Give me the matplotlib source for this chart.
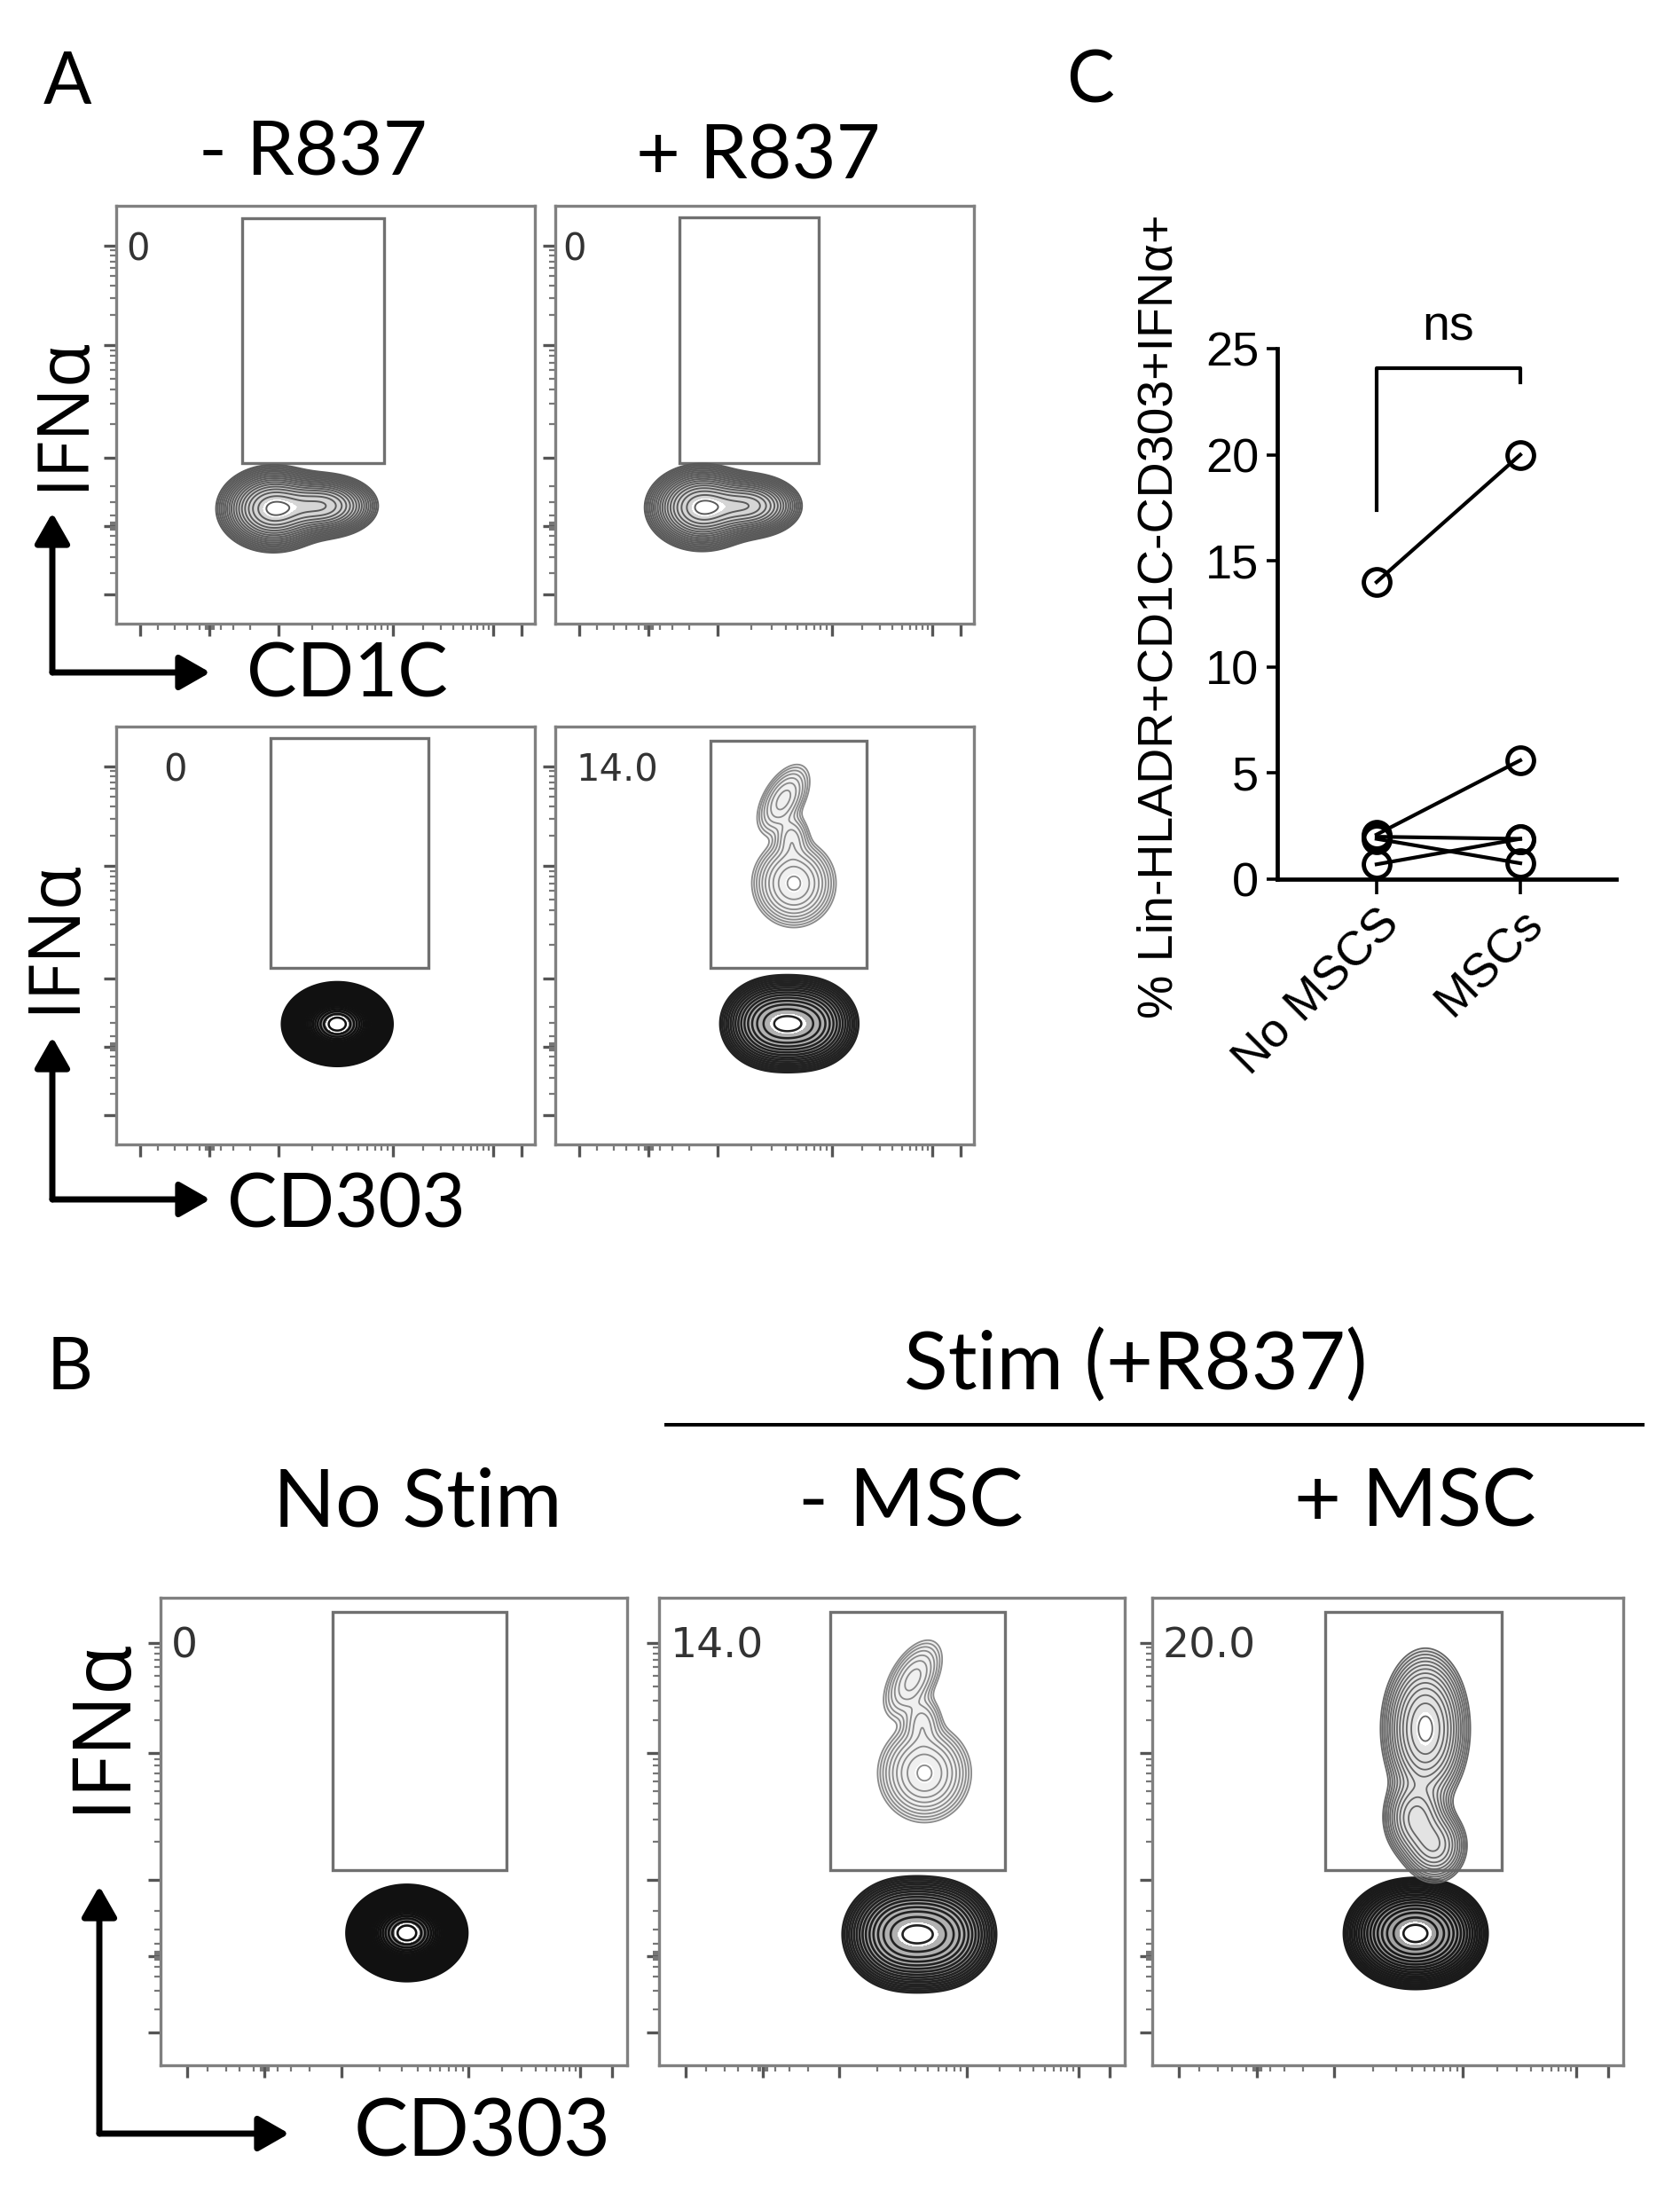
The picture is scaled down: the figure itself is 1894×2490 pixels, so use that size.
import numpy as np
import matplotlib
matplotlib.use("Agg")
import matplotlib.pyplot as plt
from matplotlib.patches import Rectangle

W, H = 1894, 2490
fig = plt.figure(figsize=(18.94, 24.90), dpi=100)

LABEL_FONT = ["Lato", "Noto Sans", "DejaVu Sans"]
GREEK_FONT = ["Open Sans", "Noto Sans", "DejaVu Sans"]

# ---- panel C data ----
groups = ["No MSCS", "MSCs"]
no_mscs = [14.0, 2.1, 2.0, 1.9, 0.7]
mscs = [20.0, 5.6, 1.9, 0.75, 1.9]
yticks_c = [0, 5, 10, 15, 20, 25]
ylabel_c = "% Lin-HLADR+CD1C-CD303+IFNα+"
bracket_y = [17.4, 24.1, 24.1, 23.4]

# ---- flow plots: gates [x0, x1, y0, y1] in axis fraction ----
gate_cd1c_neg = [0.300, 0.640, 0.385, 0.970]
gate_cd1c_pos = [0.296, 0.630, 0.385, 0.972]
gate_cd303_neg = [0.369, 0.745, 0.422, 0.972]
gate_cd303_pos = [0.370, 0.743, 0.423, 0.966]
gate_b = [0.368, 0.742, 0.418, 0.970]

pct_a = ["0", "0", "0", "14.0"]
pct_a_x = [0.024, 0.018, 0.113, 0.049]
pct_b = ["0", "14.0", "20.0"]
pct_b_x = [0.022, 0.025, 0.022]

# populations: (cx, cy, sx, sy, weight, angle)
pop_cd1c_neg = [(0.375, 0.275, 0.052, 0.040, 1.0, 0), (0.495, 0.282, 0.052, 0.031, 0.75, 0)]
pop_cd1c_pos = [(0.350, 0.278, 0.052, 0.040, 1.0, 0), (0.465, 0.282, 0.050, 0.031, 0.70, 0)]
pop_pdc_rest_a = [(0.528, 0.288, 0.050, 0.038, 1.0, 0)]
pop_pdc_rest_b = [(0.528, 0.283, 0.049, 0.039, 1.0, 0)]
pop_pdc_low_a = [(0.52, 0.289, 0.050, 0.044, 1.0, 0), (0.60, 0.289, 0.050, 0.044, 0.9, 0)]
pop_pdc_low_b = [(0.52, 0.280, 0.050, 0.047, 1.0, 0), (0.60, 0.280, 0.050, 0.047, 0.9, 0)]
pop_pdc_up = [(0.570, 0.625, 0.038, 0.040, 1.0, 0), (0.545, 0.825, 0.042, 0.022, 0.35, 60),
              (0.565, 0.730, 0.020, 0.030, 0.25, 0)]
pop_msc_low = [(0.53, 0.282, 0.050, 0.045, 1.0, 0), (0.59, 0.282, 0.050, 0.045, 0.95, 0)]
pop_msc_up = [(0.580, 0.720, 0.036, 0.065, 1.0, 0), (0.560, 0.530, 0.030, 0.040, 0.45, 0),
              (0.600, 0.470, 0.030, 0.035, 0.40, 0)]

# tick positions of the biexponential flow axes (axis fraction)
y_major = [0.071, 0.234, 0.397, 0.667, 0.904]
x_major = [0.057, 0.223, 0.387, 0.660, 0.900, 0.968]
k = np.log10(np.arange(2, 10))
y_minor = np.concatenate([0.397 + 0.270 * k, 0.667 + 0.237 * k,
                          [0.12, 0.16, 0.19, 0.21, 0.225, 0.228, 0.231, 0.237, 0.240, 0.243, 0.26, 0.29, 0.33]])
x_minor = np.concatenate([0.387 + 0.273 * k, 0.660 + 0.240 * k,
                          [0.10, 0.14, 0.17, 0.20, 0.214, 0.218, 0.228, 0.232, 0.25, 0.28, 0.32]])

grid = np.linspace(0, 1, 400)
GX, GY = np.meshgrid(grid, grid)


def px_axes(x0, y0, x1, y1):
    return fig.add_axes([x0 / W, 1 - y1 / H, (x1 - x0) / W, (y1 - y0) / H])


def draw_pop(ax, comps, color, n, lw, fill, lo=0.03):
    Z = np.zeros_like(GX)
    for cx, cy, sx, sy, w, ang in comps:
        t = np.deg2rad(ang)
        dx, dy = GX - cx, GY - cy
        u = dx * np.cos(t) + dy * np.sin(t)
        v = -dx * np.sin(t) + dy * np.cos(t)
        Z += w * np.exp(-0.5 * ((u / sx) ** 2 + (v / sy) ** 2))
    Z /= Z.max()
    levels = np.geomspace(lo, 0.92, n)
    if fill > 0:
        ax.contourf(GX, GY, Z, levels=[lo, 0.85], colors=color, alpha=fill)
    ax.contour(GX, GY, Z, levels=levels, colors=color, linewidths=lw)


def flow_axes(box, gate, pct, pct_x, pct_size, pops):
    ax = px_axes(*box)
    ax.set_xlim(0, 1)
    ax.set_ylim(0, 1)
    for s in ax.spines.values():
        s.set_color("#808080")
        s.set_linewidth(2.4)
    ax.set_xticks(x_major)
    ax.set_yticks(y_major)
    ax.set_xticks(x_minor, minor=True)
    ax.set_yticks(y_minor, minor=True)
    ax.tick_params(which="major", length=10, width=2.4, color="#555555", labelleft=False, labelbottom=False)
    ax.tick_params(which="minor", length=5, width=1.6, color="#777777")
    for comps, color, n, lw, fill in pops:
        draw_pop(ax, comps, color, n, lw, fill)
    x0, x1, y0, y1 = gate
    ax.add_patch(Rectangle((x0, y0), x1 - x0, y1 - y0, fill=False, ec="#707070", lw=2.4))
    ax.text(pct_x, 0.895, pct, ha="left", va="center", fontsize=pct_size,
            color="#333333", family="DejaVu Sans")
    return ax


# overlay for labels, arrows and lines (pixel coordinates)
ov = fig.add_axes([0, 0, 1, 1])
ov.set_xlim(0, W)
ov.set_ylim(H, 0)
ov.axis("off")
ov.patch.set_alpha(0)


def label(x, y, s, size, rot=0, family=LABEL_FONT):
    ov.text(x, y, s, ha="center", va="center", fontsize=size, rotation=rot, family=family)


def axis_arrows(x, y, top, right):
    style = "-|>,head_length=1.05,head_width=0.6"
    for tip in [(x, top), (right, y)]:
        ov.annotate("", xy=tip, xytext=(x, y),
                    arrowprops=dict(arrowstyle=style, color="black", lw=5, mutation_scale=20,
                                    shrinkA=0, shrinkB=0))


# ---- panel A ----
label(76, 94, "A", 58)
label(353, 173, "- R837", 62)
label(855, 177, "+ R837", 62)
label(72, 466, "IFNα", 58, 90, GREEK_FONT)
label(62, 1055, "IFNα", 58, 90, GREEK_FONT)
label(391, 761, "CD1C", 61)
label(390, 1360, "CD303", 61)
axis_arrows(59, 758, 578, 237)
axis_arrows(59, 1352, 1169, 237)

flow_axes((131, 232, 603, 703), gate_cd1c_neg, pct_a[0], pct_a_x[0], 30,
          [(pop_cd1c_neg, "#5a5a5a", 18, 1.4, 0.25)])
flow_axes((626, 232, 1098, 703), gate_cd1c_pos, pct_a[1], pct_a_x[1], 30,
          [(pop_cd1c_pos, "#5a5a5a", 18, 1.4, 0.25)])
flow_axes((131, 819, 603, 1290), gate_cd303_neg, pct_a[2], pct_a_x[2], 30,
          [(pop_pdc_rest_a, "#111111", 30, 1.8, 0.5)])
flow_axes((626, 819, 1098, 1290), gate_cd303_pos, pct_a[3], pct_a_x[3], 30,
          [(pop_pdc_low_a, "#222222", 16, 1.8, 0.35), (pop_pdc_up, "#8a8a8a", 10, 1.3, 0.12)])

# ---- panel B ----
label(79, 1543, "B", 58)
label(1280, 1540, "Stim (+R837)", 66)
ov.plot([749, 1854], [1606, 1606], color="black", lw=2.9, solid_capstyle="butt")
label(471, 1695, "No Stim", 66)
label(1027, 1695, "- MSC", 66)
label(1595, 1695, "+ MSC", 66)
label(115, 1944, "IFNα", 66, 90, GREEK_FONT)
label(544, 2405, "CD303", 66)
axis_arrows(112, 2405, 2126, 326)

flow_axes((181, 1801, 707, 2328), gate_b, pct_b[0], pct_b_x[0], 34,
          [(pop_pdc_rest_b, "#111111", 30, 1.9, 0.5)])
flow_axes((743, 1801, 1268, 2328), gate_b, pct_b[1], pct_b_x[1], 34,
          [(pop_pdc_low_b, "#222222", 16, 1.9, 0.35), (pop_pdc_up, "#8a8a8a", 10, 1.3, 0.12)])
flow_axes((1299, 1801, 1830, 2328), gate_b, pct_b[2], pct_b_x[2], 34,
          [(pop_msc_low, "#1a1a1a", 18, 1.9, 0.4), (pop_msc_up, "#666666", 14, 1.3, 0.18)])

# ---- panel C ----
label(1229, 93, "C", 58)
axc = px_axes(1440, 393, 1822, 991)
axc.set_xlim(-0.691, 1.667)
axc.set_ylim(0, 25)
for a, b in zip(no_mscs, mscs):
    axc.plot([0, 1], [a, b], color="black", lw=3, marker="o", ms=21.5, mfc="none",
             mec="black", mew=3.5, clip_on=False)
axc.plot([0, 0, 1, 1], bracket_y, color="black", lw=3, clip_on=False)
axc.text(0.5, 26.0, "ns", ha="center", va="center", fontsize=40, family="Liberation Sans")
for s in ["top", "right"]:
    axc.spines[s].set_visible(False)
for s in ["left", "bottom"]:
    axc.spines[s].set_linewidth(3.4)
axc.spines["left"].set_bounds(0, 25)
axc.set_yticks(yticks_c)
axc.set_xticks([0, 1])
axc.set_xticklabels(groups, rotation=45, ha="right", va="top", rotation_mode="anchor")
axc.tick_params(axis="y", length=9, width=2.6, labelsize=39, pad=6)
axc.tick_params(axis="x", length=12, width=2.6, labelsize=39, pad=6)
for t in axc.get_xticklabels() + axc.get_yticklabels():
    t.set_family("Liberation Sans")
axc.patch.set_alpha(0)
ov.text(1308, 695, ylabel_c, ha="center", va="center", rotation=90, fontsize=40,
        family=["Liberation Sans", "DejaVu Sans"])

fig.savefig("out.png", dpi=100, facecolor="white")
